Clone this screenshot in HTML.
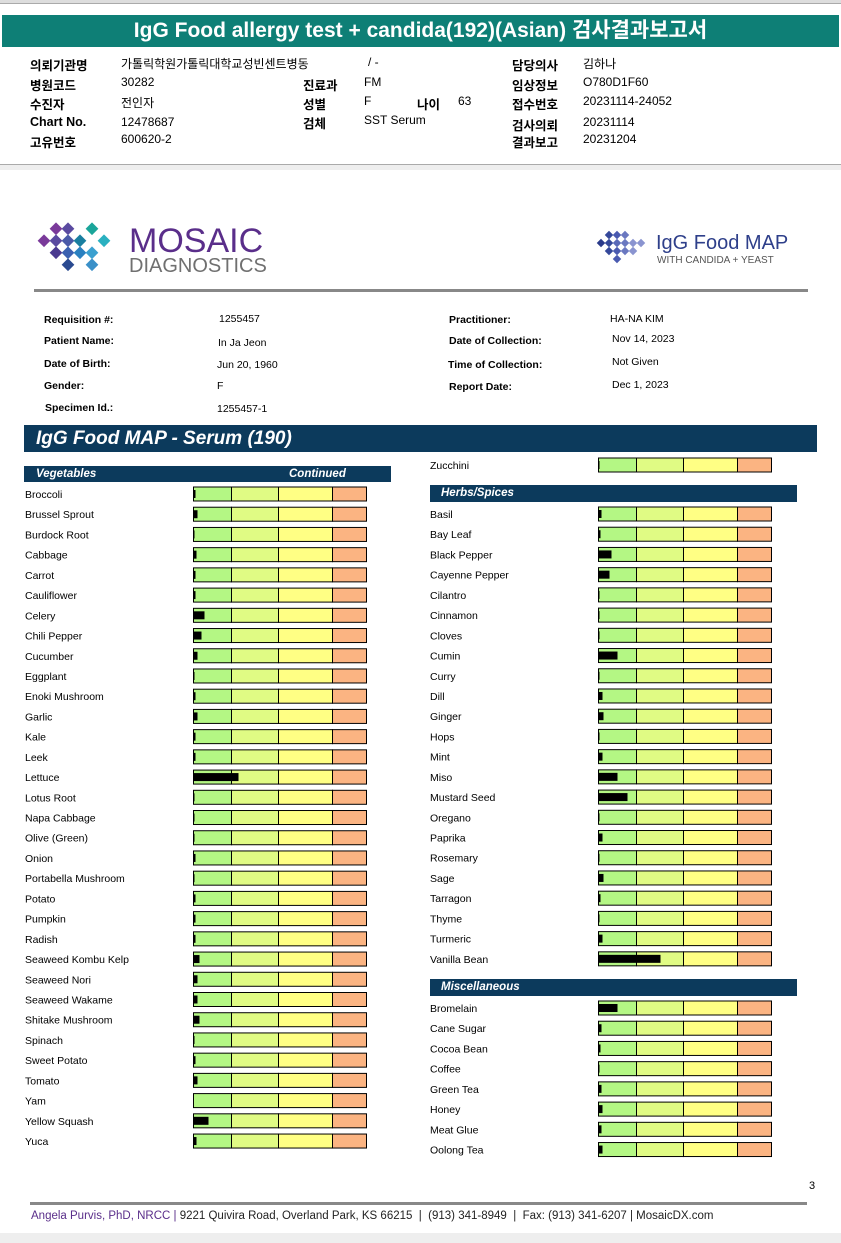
<!DOCTYPE html>
<html><head><meta charset="utf-8">
<style>
*{margin:0;padding:0;box-sizing:border-box}
body{width:841px;height:1243px;position:relative;background:#fff;font-family:"Liberation Sans","Noto Sans CJK KR",sans-serif;overflow:hidden}
.a{position:absolute;white-space:nowrap}
.k{font-size:12px;color:#000}
.kb{font-size:12.5px;font-weight:bold;color:#000}
.r{font-size:10.5px;color:#000}
.rb{font-size:10.5px;font-weight:bold;color:#000}
.lab{position:absolute;font-size:10.5px;color:#000;white-space:nowrap}
.hd{position:absolute;background:#0c3a5c;color:#fff;font-style:italic;font-weight:bold;font-size:11.5px}
</style></head>
<body>
<div class="a" style="left:0;top:0;width:841px;height:4px;background:#ddd;border-bottom:1px solid #aaa"></div>
<div class="a" style="left:2px;top:15px;width:837px;height:32px;background:#0e7f76;color:#fff;font-size:21px;font-weight:bold;text-align:center;line-height:31px">IgG Food allergy test + candida(192)(Asian) 검사결과보고서</div>
<div>
<div class="a kb" style="left:30px;top:55px">의뢰기관명</div><div class="a k" style="left:121px;top:55px">가톨릭학원가톨릭대학교성빈센트병동</div><div class="a k" style="left:368px;top:55px">/ -</div>
<div class="a kb" style="left:512px;top:55px">담당의사</div><div class="a k" style="left:583px;top:55px">김하나</div>
<div class="a kb" style="left:30px;top:75px">병원코드</div><div class="a k" style="left:121px;top:75px">30282</div>
<div class="a kb" style="left:303px;top:75px">진료과</div><div class="a k" style="left:364px;top:75px">FM</div>
<div class="a kb" style="left:512px;top:75px">임상정보</div><div class="a k" style="left:583px;top:75px">O780D1F60</div>
<div class="a kb" style="left:30px;top:94px">수진자</div><div class="a k" style="left:121px;top:94px">전인자</div>
<div class="a kb" style="left:303px;top:94px">성별</div><div class="a k" style="left:364px;top:94px">F</div>
<div class="a kb" style="left:417px;top:94px">나이</div><div class="a k" style="left:458px;top:94px">63</div>
<div class="a kb" style="left:512px;top:94px">접수번호</div><div class="a k" style="left:583px;top:94px">20231114-24052</div>
<div class="a kb" style="left:30px;top:115px">Chart No.</div><div class="a k" style="left:121px;top:115px">12478687</div>
<div class="a kb" style="left:303px;top:113px">검체</div><div class="a k" style="left:364px;top:113px">SST Serum</div>
<div class="a kb" style="left:512px;top:115px">검사의뢰</div><div class="a k" style="left:583px;top:115px">20231114</div>
<div class="a kb" style="left:30px;top:132px">고유번호</div><div class="a k" style="left:121px;top:132px">600620-2</div>
<div class="a kb" style="left:512px;top:132px">결과보고</div><div class="a k" style="left:583px;top:132px">20231204</div>
</div>
<div class="a" style="left:0;top:164px;width:841px;height:6px;background:#eee;border-top:1px solid #aaa"></div>

<svg class="a" style="left:34px;top:222px" width="250" height="52">
<g transform="rotate(45 0 0)"></g>
<rect x="18" y="2" width="9" height="9" fill="#7a3a9a" transform="rotate(45 22 6)"/>
<rect x="30" y="2" width="9" height="9" fill="#5a4aa0" transform="rotate(45 34 6)"/>
<rect x="54" y="2" width="9" height="9" fill="#1aa59a" transform="rotate(45 58 6)"/>
<rect x="6" y="14" width="9" height="9" fill="#7a3a9a" transform="rotate(45 10 18)"/>
<rect x="18" y="14" width="9" height="9" fill="#5a4aa0" transform="rotate(45 22 18)"/>
<rect x="30" y="14" width="9" height="9" fill="#4a5aa8" transform="rotate(45 34 18)"/>
<rect x="42" y="14" width="9" height="9" fill="#1a7fa0" transform="rotate(45 46 18)"/>
<rect x="66" y="14" width="9" height="9" fill="#2ab0c0" transform="rotate(45 70 18)"/>
<rect x="18" y="26" width="9" height="9" fill="#4a3a90" transform="rotate(45 22 30)"/>
<rect x="30" y="26" width="9" height="9" fill="#3a60b0" transform="rotate(45 34 30)"/>
<rect x="42" y="26" width="9" height="9" fill="#2a80c0" transform="rotate(45 46 30)"/>
<rect x="54" y="26" width="9" height="9" fill="#3aa0d0" transform="rotate(45 58 30)"/>
<rect x="30" y="38" width="9" height="9" fill="#2a4a90" transform="rotate(45 34 42)"/>
<rect x="54" y="38" width="9" height="9" fill="#3a90c8" transform="rotate(45 58 42)"/>
<text x="95" y="30" font-family="Liberation Sans" font-size="34" fill="#5a2e8a">MOSAIC</text>
<text x="95" y="50" font-family="Liberation Sans" font-size="20" fill="#707070">DIAGNOSTICS</text>
</svg>
<svg class="a" style="left:592px;top:230px" width="215" height="40">
<rect x="14" y="2" width="6" height="6" fill="#34489a" transform="rotate(45 17 5)"/>
<rect x="22" y="2" width="6" height="6" fill="#4a5ab0" transform="rotate(45 25 5)"/>
<rect x="30" y="2" width="6" height="6" fill="#6a78c0" transform="rotate(45 33 5)"/>
<rect x="6" y="10" width="6" height="6" fill="#2a3a8a" transform="rotate(45 9 13)"/>
<rect x="14" y="10" width="6" height="6" fill="#34489a" transform="rotate(45 17 13)"/>
<rect x="22" y="10" width="6" height="6" fill="#5a6ab8" transform="rotate(45 25 13)"/>
<rect x="30" y="10" width="6" height="6" fill="#6a78c0" transform="rotate(45 33 13)"/>
<rect x="38" y="10" width="6" height="6" fill="#8a94d0" transform="rotate(45 41 13)"/>
<rect x="46" y="10" width="6" height="6" fill="#8a94d0" transform="rotate(45 49 13)"/>
<rect x="14" y="18" width="6" height="6" fill="#34489a" transform="rotate(45 17 21)"/>
<rect x="22" y="18" width="6" height="6" fill="#4a5ab0" transform="rotate(45 25 21)"/>
<rect x="30" y="18" width="6" height="6" fill="#6a78c0" transform="rotate(45 33 21)"/>
<rect x="38" y="18" width="6" height="6" fill="#8a94d0" transform="rotate(45 41 21)"/>
<rect x="22" y="26" width="6" height="6" fill="#4a5ab0" transform="rotate(45 25 29)"/>
<text x="64" y="19" font-family="Liberation Sans" font-size="20" fill="#2e3f8a">IgG Food MAP</text>
<text x="65" y="33" font-family="Liberation Sans" font-size="10" fill="#555">WITH CANDIDA + YEAST</text>
</svg>
<div class="a" style="left:34px;top:289px;width:774px;height:3px;background:#888"></div>

<div>
<div class="a rb" style="left:44px;top:314px">Requisition #:</div><div class="a r" style="left:219px;top:313px">1255457</div>
<div class="a rb" style="left:44px;top:335px">Patient Name:</div><div class="a r" style="left:218px;top:337px">In Ja Jeon</div>
<div class="a rb" style="left:44px;top:358px">Date of Birth:</div><div class="a r" style="left:217px;top:359px">Jun 20, 1960</div>
<div class="a rb" style="left:44px;top:380px">Gender:</div><div class="a r" style="left:217px;top:380px">F</div>
<div class="a rb" style="left:45px;top:402px">Specimen Id.:</div><div class="a r" style="left:217px;top:403px">1255457-1</div>
<div class="a rb" style="left:449px;top:314px">Practitioner:</div><div class="a r" style="left:610px;top:313px">HA-NA KIM</div>
<div class="a rb" style="left:449px;top:335px">Date of Collection:</div><div class="a r" style="left:612px;top:333px">Nov 14, 2023</div>
<div class="a rb" style="left:448px;top:359px">Time of Collection:</div><div class="a r" style="left:612px;top:356px">Not Given</div>
<div class="a rb" style="left:449px;top:381px">Report Date:</div><div class="a r" style="left:612px;top:379px">Dec 1, 2023</div>
</div>
<div class="hd" style="left:24px;top:425px;width:793px;height:27px;font-size:19px;line-height:27px;padding-left:12px">IgG Food MAP - Serum (190)</div>
<div class="hd" style="left:24px;top:466px;width:367px;height:16px;line-height:16px;padding-left:12px">Vegetables<span style="position:absolute;left:265px">Continued</span></div>
<div class="hd" style="left:430px;top:485px;width:367px;height:17px;line-height:17px;padding-left:11px">Herbs/Spices</div>
<div class="hd" style="left:430px;top:979px;width:367px;height:17px;line-height:17px;padding-left:11px">Miscellaneous</div>

<svg class="a" id="chart" style="left:0;top:0" width="841" height="1243"></svg>

<div class="a" style="left:809px;top:1180px;font-size:11px">3</div>
<div class="a" style="left:30px;top:1202px;width:777px;height:3px;background:#888"></div>
<div class="a" style="left:31px;top:1210px;font-size:11.5px;color:#222"><span style="color:#5a2e8a">Angela Purvis, PhD, NRCC |</span> 9221 Quivira Road, Overland Park, KS 66215 &nbsp;| &nbsp;(913) 341-8949 &nbsp;| &nbsp;Fax: (913) 341-6207 | MosaicDX.com</div>
<div class="a" style="left:0;top:1233px;width:841px;height:10px;background:#eee"></div>

<script>
const vegNames=["Broccoli","Brussel Sprout","Burdock Root","Cabbage","Carrot","Cauliflower","Celery","Chili Pepper","Cucumber","Eggplant","Enoki Mushroom","Garlic","Kale","Leek","Lettuce","Lotus Root","Napa Cabbage","Olive (Green)","Onion","Portabella Mushroom","Potato","Pumpkin","Radish","Seaweed Kombu Kelp","Seaweed Nori","Seaweed Wakame","Shitake Mushroom","Spinach","Sweet Potato","Tomato","Yam","Yellow Squash","Yuca"];
const vegValues=[2,4,1,3,2,2,11,8,4,1,2,4,2,2,45,1,1,1,2,1,2,2,2,6,4,4,6,1,2,4,0,15,3];
const zucNames=["Zucchini"];
const zucValues=[1];
const herbNames=["Basil","Bay Leaf","Black Pepper","Cayenne Pepper","Cilantro","Cinnamon","Cloves","Cumin","Curry","Dill","Ginger","Hops","Mint","Miso","Mustard Seed","Oregano","Paprika","Rosemary","Sage","Tarragon","Thyme","Turmeric","Vanilla Bean"];
const herbValues=[3,2,13,11,1,1,1,19,1,4,5,1,4,19,29,1,4,1,5,2,1,4,62];
const miscNames=["Bromelain","Cane Sugar","Cocoa Bean","Coffee","Green Tea","Honey","Meat Glue","Oolong Tea"];
const miscValues=[19,3,2,1,3,4,3,4];
const segBounds=[0,38,85,139,173];
const segColors=["#b4f784","#e0fb84","#ffff84","#fbb482"];
const NS="http://www.w3.org/2000/svg";
const svg=document.getElementById('chart');
const PITCH=20.22;
function xScale(v){return Math.min(v,173);}
function drawGroup(names,values,labelX,boxX,y0,slug){
  names.forEach((n,i)=>{
    const cy=y0+i*PITCH;
    const t=document.createElementNS(NS,'text');
    
    
    t.setAttribute('x',labelX);t.setAttribute('y',cy+4);
    t.setAttribute('font-family','Liberation Sans');t.setAttribute('font-size','10.5');
    t.textContent=n;svg.appendChild(t);
    for(let s=0;s<4;s++){
      const r=document.createElementNS(NS,'rect');
      
      
      r.setAttribute('x',boxX+segBounds[s]);r.setAttribute('y',cy-7);
      r.setAttribute('width',segBounds[s+1]-segBounds[s]);r.setAttribute('height',14);
      r.setAttribute('fill',segColors[s]);r.setAttribute('stroke','#000');r.setAttribute('stroke-width','1');
      svg.appendChild(r);
    }
    const b=document.createElementNS(NS,'rect');
    
    
    b.setAttribute('x',boxX);b.setAttribute('y',cy-4);
    b.setAttribute('width',xScale(values[i]));b.setAttribute('height',8);
    b.setAttribute('fill','#000');svg.appendChild(b);
  });
}
drawGroup(vegNames,vegValues,25,193.5,494,'vegetable');
drawGroup(zucNames,zucValues,430,598.5,465,'vegetable');
drawGroup(herbNames,herbValues,430,598.5,514,'herb');
drawGroup(miscNames,miscValues,430,598.5,1008,'misc');
</script>
</body></html>
